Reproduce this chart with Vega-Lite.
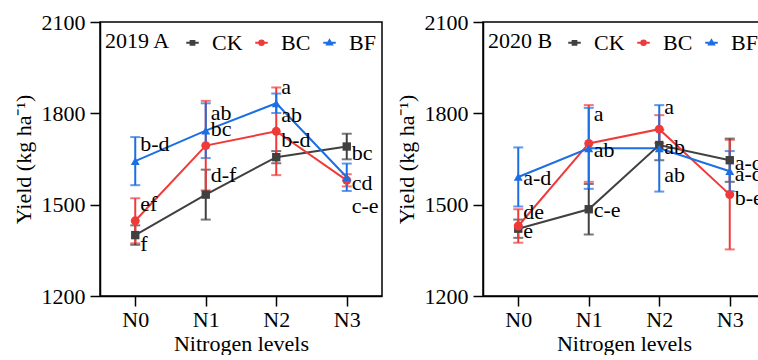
{
  "$schema": "https://vega.github.io/schema/vega-lite/v6.json",
  "datasets": {
    "y2019": [
      {"level": "N0", "trt": "CK", "yield": 1400, "se": 32},
      {"level": "N1", "trt": "CK", "yield": 1533, "se": 82},
      {"level": "N2", "trt": "CK", "yield": 1656, "se": 20},
      {"level": "N3", "trt": "CK", "yield": 1691, "se": 42},
      {"level": "N0", "trt": "BC", "yield": 1447, "se": 74},
      {"level": "N1", "trt": "BC", "yield": 1694, "se": 147},
      {"level": "N2", "trt": "BC", "yield": 1741, "se": 144},
      {"level": "N3", "trt": "BC", "yield": 1580, "se": 20},
      {"level": "N0", "trt": "BF", "yield": 1643, "se": 79},
      {"level": "N1", "trt": "BF", "yield": 1743, "se": 90},
      {"level": "N2", "trt": "BF", "yield": 1833, "se": 32},
      {"level": "N3", "trt": "BF", "yield": 1590, "se": 45}
    ],
    "y2020": [
      {"level": "N0", "trt": "CK", "yield": 1421, "se": 30},
      {"level": "N1", "trt": "CK", "yield": 1485, "se": 83},
      {"level": "N2", "trt": "CK", "yield": 1696, "se": 50},
      {"level": "N3", "trt": "CK", "yield": 1646, "se": 71},
      {"level": "N0", "trt": "BC", "yield": 1430, "se": 55},
      {"level": "N1", "trt": "BC", "yield": 1701, "se": 126},
      {"level": "N2", "trt": "BC", "yield": 1748, "se": 46},
      {"level": "N3", "trt": "BC", "yield": 1533, "se": 180},
      {"level": "N0", "trt": "BF", "yield": 1591, "se": 97},
      {"level": "N1", "trt": "BF", "yield": 1685, "se": 133},
      {"level": "N2", "trt": "BF", "yield": 1685, "se": 142},
      {"level": "N3", "trt": "BF", "yield": 1610, "se": 66}
    ],
    "lab2019": [
      {"level": "N0", "pos": 1700, "lab": "b-d"},
      {"level": "N0", "pos": 1503, "lab": "ef"},
      {"level": "N0", "pos": 1372, "lab": "f"},
      {"level": "N1", "pos": 1800, "lab": "ab"},
      {"level": "N1", "pos": 1749, "lab": "bc"},
      {"level": "N1", "pos": 1596, "lab": "d-f"},
      {"level": "N2", "pos": 1887, "lab": "a"},
      {"level": "N2", "pos": 1796, "lab": "ab"},
      {"level": "N2", "pos": 1713, "lab": "b-d"},
      {"level": "N3", "pos": 1669, "lab": "bc"},
      {"level": "N3", "pos": 1571, "lab": "cd"},
      {"level": "N3", "pos": 1495, "lab": "c-e"}
    ],
    "lab2020": [
      {"level": "N0", "pos": 1586, "lab": "a-d"},
      {"level": "N0", "pos": 1476, "lab": "de"},
      {"level": "N0", "pos": 1412, "lab": "e"},
      {"level": "N1", "pos": 1797, "lab": "a"},
      {"level": "N1", "pos": 1679, "lab": "ab"},
      {"level": "N1", "pos": 1481, "lab": "c-e"},
      {"level": "N2", "pos": 1822, "lab": "a"},
      {"level": "N2", "pos": 1690, "lab": "ab"},
      {"level": "N2", "pos": 1597, "lab": "ab"},
      {"level": "N3", "pos": 1638, "lab": "a-c"},
      {"level": "N3", "pos": 1602, "lab": "a-d"},
      {"level": "N3", "pos": 1522, "lab": "b-e"}
    ]
  },
  "padding": {"left": 11, "top": 10, "right": 0, "bottom": 0},
  "spacing": 101,
  "bounds": "flush",
  "resolve": {"scale": {"color": "independent"}, "legend": {"color": "independent"}},
  "hconcat": [
    {
      "width": 282,
      "height": 274,
      "encoding": {
        "x": {"field": "level", "type": "ordinal", "scale": {"type": "point", "padding": 0.5}, "axis": {"title": "Nitrogen levels", "labelAngle": 0, "labelPadding": 3, "titlePadding": 3}},
        "y": {"field": "yield", "type": "quantitative", "scale": {"domain": [1200, 2100], "nice": false, "zero": false}, "axis": {"title": "Yield (kg ha⁻¹)", "format": "d", "values": [1200, 1500, 1800, 2100], "labelPadding": 5, "titlePadding": 6}},
        "color": {"field": "trt", "type": "nominal", "scale": {"domain": ["CK", "BC", "BF"], "range": ["#404040", "#f03a3a", "#1c6fe3"]},
          "legend": {"title": "2019 A", "orient": "none", "legendX": 5, "legendY": 7, "direction": "horizontal", "titleOrient": "left", "titleBaseline": "middle", "titleAnchor": "middle", "symbolSize": 625, "labelOffset": 6, "columnPadding": 5, "titlePadding": 8, "padding": 0,
            "encode": {"symbols": {"update": {
              "shape": {"signal": "datum.value === 'CK' ? 'M-0.5,0H0.5M-0.15,-0.15H0.15V0.15H-0.15Z' : datum.value === 'BC' ? 'M-0.5,0H0.5M0.18,0A0.18,0.18,0,1,1,-0.18,0A0.18,0.18,0,1,1,0.18,0Z' : 'M-0.5,0H0.5M0,-0.2L0.2,0.14H-0.2Z'"},
              "fill": {"signal": "datum.value === 'CK' ? '#404040' : datum.value === 'BC' ? '#f03a3a' : '#1c6fe3'"},
              "stroke": {"signal": "datum.value === 'CK' ? '#404040' : datum.value === 'BC' ? '#f03a3a' : '#1c6fe3'"},
              "strokeWidth": {"value": 2},
              "opacity": {"value": 1}
            }}}}}
      },
      "layer": [
        {
          "data": {"name": "y2019"},
          "mark": {"type": "errorbar", "ticks": {"size": 10}, "thickness": 2},
          "encoding": {"yError": {"field": "se"}}
        },
        {
          "data": {"name": "y2019"},
          "mark": {"type": "line", "strokeWidth": 2}
        },
        {
          "data": {"name": "y2019"},
          "transform": [{"filter": "datum.trt === 'CK'"}],
          "mark": {"type": "point", "filled": true, "size": 70, "opacity": 1, "shape": "square"}
        },
        {
          "data": {"name": "y2019"},
          "transform": [{"filter": "datum.trt === 'BC'"}],
          "mark": {"type": "point", "filled": true, "size": 80, "opacity": 1, "shape": "circle"}
        },
        {
          "data": {"name": "y2019"},
          "transform": [{"filter": "datum.trt === 'BF'"}],
          "mark": {"type": "point", "filled": true, "size": 80, "opacity": 1, "shape": "triangle-up"}
        },
        {
          "data": {"name": "lab2019"},
          "mark": {"type": "text", "align": "left", "baseline": "middle", "dx": 5, "font": "Liberation Serif, Times New Roman, serif", "fontSize": 22, "color": "black"},
          "encoding": {
            "y": {"field": "pos", "type": "quantitative"},
            "color": null,
            "text": {"field": "lab"}
          }
        }
      ]
    },
    {
      "width": 282,
      "height": 274,
      "encoding": {
        "x": {"field": "level", "type": "ordinal", "scale": {"type": "point", "padding": 0.5}, "axis": {"title": "Nitrogen levels", "labelAngle": 0, "labelPadding": 3, "titlePadding": 3}},
        "y": {"field": "yield", "type": "quantitative", "scale": {"domain": [1200, 2100], "nice": false, "zero": false}, "axis": {"title": "Yield (kg ha⁻¹)", "format": "d", "values": [1200, 1500, 1800, 2100], "labelPadding": 5, "titlePadding": 6}},
        "color": {"field": "trt", "type": "nominal", "scale": {"domain": ["CK", "BC", "BF"], "range": ["#404040", "#f03a3a", "#1c6fe3"]},
          "legend": {"title": "2020 B", "orient": "none", "legendX": 5, "legendY": 7, "direction": "horizontal", "titleOrient": "left", "titleBaseline": "middle", "titleAnchor": "middle", "symbolSize": 625, "labelOffset": 6, "columnPadding": 5, "titlePadding": 8, "padding": 0,
            "encode": {"symbols": {"update": {
              "shape": {"signal": "datum.value === 'CK' ? 'M-0.5,0H0.5M-0.15,-0.15H0.15V0.15H-0.15Z' : datum.value === 'BC' ? 'M-0.5,0H0.5M0.18,0A0.18,0.18,0,1,1,-0.18,0A0.18,0.18,0,1,1,0.18,0Z' : 'M-0.5,0H0.5M0,-0.2L0.2,0.14H-0.2Z'"},
              "fill": {"signal": "datum.value === 'CK' ? '#404040' : datum.value === 'BC' ? '#f03a3a' : '#1c6fe3'"},
              "stroke": {"signal": "datum.value === 'CK' ? '#404040' : datum.value === 'BC' ? '#f03a3a' : '#1c6fe3'"},
              "strokeWidth": {"value": 2},
              "opacity": {"value": 1}
            }}}}}
      },
      "layer": [
        {
          "data": {"name": "y2020"},
          "mark": {"type": "errorbar", "ticks": {"size": 10}, "thickness": 2},
          "encoding": {"yError": {"field": "se"}}
        },
        {
          "data": {"name": "y2020"},
          "mark": {"type": "line", "strokeWidth": 2}
        },
        {
          "data": {"name": "y2020"},
          "transform": [{"filter": "datum.trt === 'CK'"}],
          "mark": {"type": "point", "filled": true, "size": 70, "opacity": 1, "shape": "square"}
        },
        {
          "data": {"name": "y2020"},
          "transform": [{"filter": "datum.trt === 'BC'"}],
          "mark": {"type": "point", "filled": true, "size": 80, "opacity": 1, "shape": "circle"}
        },
        {
          "data": {"name": "y2020"},
          "transform": [{"filter": "datum.trt === 'BF'"}],
          "mark": {"type": "point", "filled": true, "size": 80, "opacity": 1, "shape": "triangle-up"}
        },
        {
          "data": {"name": "lab2020"},
          "mark": {"type": "text", "align": "left", "baseline": "middle", "dx": 5, "font": "Liberation Serif, Times New Roman, serif", "fontSize": 22, "color": "black"},
          "encoding": {
            "y": {"field": "pos", "type": "quantitative"},
            "color": null,
            "text": {"field": "lab"}
          }
        }
      ]
    }
  ],
  "config": {
    "background": "white",
    "font": "Liberation Serif, Times New Roman, serif",
    "view": {"stroke": "black", "strokeWidth": 1.5},
    "axis": {"grid": false, "domainColor": "black", "domainWidth": 1.5, "tickColor": "black", "tickWidth": 1.5, "tickSize": 10, "labelFont": "Liberation Serif, Times New Roman, serif", "labelFontSize": 22, "labelColor": "black", "titleFont": "Liberation Serif, Times New Roman, serif", "titleFontSize": 22, "titleFontWeight": "normal", "titleColor": "black"},
    "legend": {"labelFont": "Liberation Serif, Times New Roman, serif", "labelFontSize": 22, "labelColor": "black", "titleFont": "Liberation Serif, Times New Roman, serif", "titleFontSize": 22, "titleFontWeight": "normal", "titleColor": "black"}
  }
}
